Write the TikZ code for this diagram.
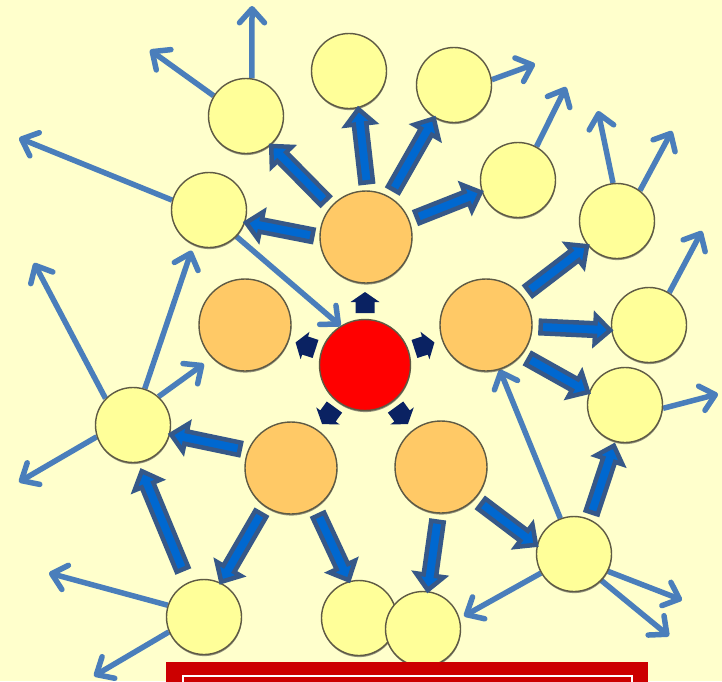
\documentclass[tikz,border=0pt]{standalone}
\usetikzlibrary{calc,arrows.meta,shadows}

\definecolor{bgyellow}{HTML}{FFFFCC}
\definecolor{ballyellow}{HTML}{FFFF99}
\definecolor{ballorange}{HTML}{FFC966}
\definecolor{ballred}{HTML}{FF0000}
\definecolor{rim}{HTML}{5E5A44}
\definecolor{linkblue}{HTML}{4A7EBB}
\definecolor{blkfill}{HTML}{0068D0}
\definecolor{blkedge}{HTML}{365888}
\definecolor{navy}{HTML}{0A2262}
\definecolor{barred}{HTML}{CC0000}

\pgfdeclarelayer{back}
\pgfdeclarelayer{links}
\pgfsetlayers{back,links,main}

\tikzset{
  ball/.style={circle, inner sep=0pt, draw=rim, line width=1.4pt,
    drop shadow={shadow xshift=0.3pt, shadow yshift=-1.6pt, opacity=0.6,
      fill=black!70}},
  leaf/.style={ball, fill=ballyellow, minimum size=75pt},
  hub/.style={ball, fill=ballorange, minimum size=92pt},
  core/.style={ball, fill=ballred, minimum size=91pt},
  link/.style={draw=linkblue, line width=5.5pt,
    -{Straight Barb[length=14pt,width=25pt,line width=5.5pt,round]}},
  blockarrow/.style={fill=blkfill, draw=blkedge, line width=4.5pt, line join=miter},
  pulse/.style={fill=navy},
}

% polygon arrow: #1 style, #2 tail, #3 tip, #4 shaft half width,
% #5 head half width, #6 head length
\newcommand\polyarrow[6]{%
  \path (#2) coordinate (pa-s) (#3) coordinate (pa-t);
  \path ($(pa-t)!#6!(pa-s)$) coordinate (pa-c);
  \path[#1] ($(pa-s)!#4!90:(pa-t)$) -- ($(pa-c)!#4!90:(pa-t)$)
    -- ($(pa-c)!#5!90:(pa-t)$) -- (pa-t) -- ($(pa-c)!#5!-90:(pa-t)$)
    -- ($(pa-c)!#4!-90:(pa-t)$) -- ($(pa-s)!#4!-90:(pa-t)$) -- cycle;
}
% thick block arrow between two anchors: #3 gap at tail, #4 gap at tip
\newcommand\blkarrow[4]{%
  \path (#1) coordinate (ba-a) (#2) coordinate (ba-b);
  \path ($(ba-a)!#3!(ba-b)$) coordinate (ba-s) ($(ba-b)!#4!(ba-a)$) coordinate (ba-t);
  \polyarrow{blockarrow}{ba-s}{ba-t}{6.3pt}{14pt}{15pt}%
}

\begin{document}
\begin{tikzpicture}[x=1pt,y=-1pt]
\clip (0,0) rectangle (722,681);
\begin{pgfonlayer}{back}
  \fill[bgyellow] (0,0) rectangle (722,681);
\end{pgfonlayer}

% centre and first ring
\node[core] (R)   at (365,365) {};
\node[hub]  (OT)  at (366,237) {};
\node[hub]  (OL)  at (245,325) {};
\node[hub]  (OR)  at (486,325) {};
\node[hub]  (OBL) at (291,468) {};
\node[hub]  (OBR) at (441,467) {};

% outer ring
\node[leaf] (y1)  at (246,116) {};
\node[leaf] (y2)  at (349,71)  {};
\node[leaf] (y3)  at (454,85)  {};
\node[leaf] (y4)  at (518,180) {};
\node[leaf] (y5)  at (617,221) {};
\node[leaf] (y6)  at (649,325) {};
\node[leaf] (y7)  at (625,405) {};
\node[leaf] (y8)  at (574,554) {};
\node[leaf] (y10) at (359,618) {};
\node[leaf] (y9)  at (423,629) {};
\node[leaf] (y11) at (204,617) {};
\node[leaf] (y12) at (133,425) {};
\node[leaf] (y13) at (209,210) {};

% free ends of the outgoing thin arrows
\coordinate (t1a) at (252,6);
\coordinate (t1b) at (150,50);
\coordinate (t13) at (19,138);
\coordinate (t3)  at (535,64);
\coordinate (t4)  at (566,87);
\coordinate (t5a) at (598,111);
\coordinate (t5b) at (672,131);
\coordinate (t6)  at (702,231);
\coordinate (t7)  at (718,394);
\coordinate (t8a) at (682,600);
\coordinate (t8b) at (669,636);
\coordinate (t8c) at (464,616);
\coordinate (t12a) at (34,263);
\coordinate (t12b) at (19,482);
\coordinate (t11a) at (49,573);
\coordinate (t11b) at (94,676);

% thin arrows
\begin{pgfonlayer}{links}
  \draw[link] (y1.81)   -- (t1a);
  \draw[link] (y1.148)  -- (t1b);
  \draw[link] (y13.165) -- (t13);
  \draw[link] (y13.-44) -- (R.122);
  \draw[link] (y3.8)    -- (t3);
  \draw[link] (y4.61)   -- (t4);
  \draw[link] (y5.96)   -- (t5a);
  \draw[link] (y5.53)   -- (t5b);
  \draw[link] (y6.58)   -- (t6);
  \draw[link] (y7.-5)   -- (t7);
  \draw[link] (y8.-27)  -- (t8a);
  \draw[link] (y8.-44)  -- (t8b);
  \draw[link] (y8.-150) -- (t8c);
  \draw[link] (y8.111)  -- (OR.-73);
  \draw[link] (y12.136) -- (t12a);
  \draw[link, shorten >=6pt]  (y12.72) -- (y13.-114);
  \draw[link, shorten >=10pt] (y12.48) -- (OL.-135);
  \draw[link] (y12.-162) -- (t12b);
  \draw[link] (y11.162) -- (t11a);
  \draw[link] (y11.-157) -- (t11b);
\end{pgfonlayer}

% block arrows from the first ring outwards
\blkarrow{OT.180}{y13.-19}{7pt}{1pt}
\blkarrow{OT.139}{y1.-50}{8pt}{1pt}
\blkarrow{OT.88}{y2.-76}{8pt}{1pt}
\blkarrow{OT.60}{y3.-121}{8pt}{1pt}
\blkarrow{OT.21}{y4.-162}{8pt}{1pt}
\blkarrow{OR.39}{y5.-140}{8pt}{1pt}
\blkarrow{OR.-2}{y6.-172}{8pt}{1pt}
\blkarrow{OR.-40}{y7.161}{8pt}{1pt}
\blkarrow{OBR.-43}{y8.167}{8pt}{1pt}
\blkarrow{OBR.-93}{y9.83}{8pt}{1pt}
\blkarrow{OBL.-59}{y10.105}{8pt}{1pt}
\blkarrow{OBL.-124}{y11.64}{8pt}{1pt}
\blkarrow{OBL.158}{y12.-14}{8pt}{1pt}
\blkarrow{y11.115}{y12.-82}{14pt}{9pt}
\blkarrow{y8.66}{y7.-105}{7pt}{4pt}

% small arrows around the centre
\foreach \a in {90,162,18,234,306}{%
  \polyarrow{pulse}{$(R)+(\a:52pt)$}{$(R)+(\a:73pt)$}{9.5pt}{14.5pt}{10pt}%
}

% banner at the bottom edge
\fill[barred] (166,662) rectangle (648,700);
\draw[white, line width=1.6pt] (183,676) rectangle (632,700);
\end{tikzpicture}
\end{document}
